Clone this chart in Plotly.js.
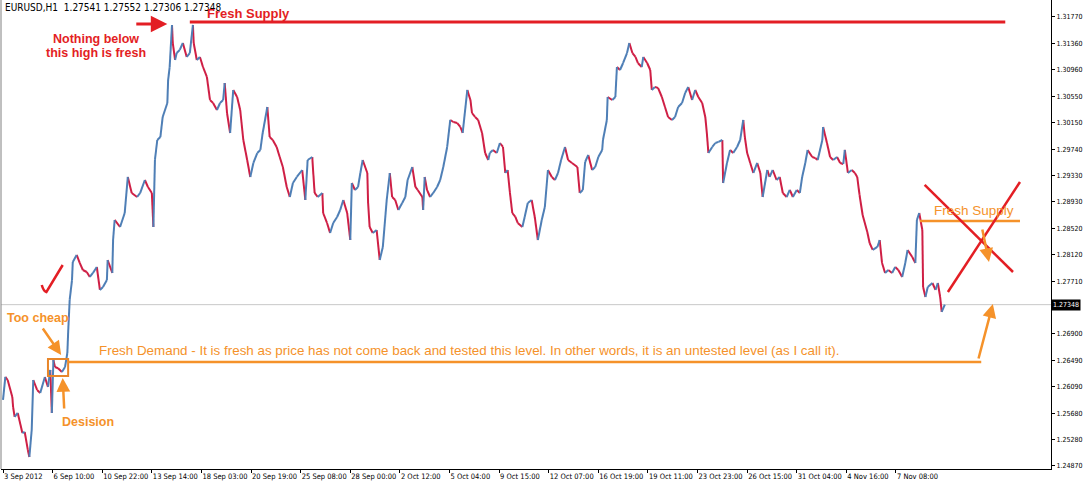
<!DOCTYPE html>
<html>
<head>
<meta charset="utf-8">
<script src="https://cdn.plot.ly/plotly-3.0.1.min.js"></script>
<style>html,body{margin:0;padding:0;background:#fff;}#chart{width:1083px;height:481px;}</style>
</head>
<body>
<div id="chart"></div>
<script>
// ---- data (bar index = hourly bar number from 3 Sep 2012) ----
const symbolName = "EURUSD,H1";
const lastBarOHLC = [1.27541, 1.27552, 1.27306, 1.27348];

const barIndex = [0,3,6,12,13,15,19,25,28,32,34,37,39,44,48,54,58,61,63,65,67,71,76,80,83,84,86,89,90,95,
99,103,108,112,116,121,125,129,134,135,141,142,144,151,157,161,166,173,177,183,187,192,194,196,199,203,206,212,213,215,
218,219,222,224,228,232,237,241,245,246,250,254,258,263,267,271,276,280,284,286,289,293,297,302,306,310,315,319,323,328,
332,335,341,342,344,348,353,357,361,366,370,374,379,386,390,393,399,400,402,406,412,413,418,422,426,431,435,439,444,448,
450,454,458,461,464,470,471,473,477,482,486,490,495,499,502,506,510,515,519,522,528,532,535,541,542,544,547,551,555,560,
564,568,573,577,581,586,590,593,599,603,605,609,613,618,622,626,628,632,637,641,645,648,651,654,657,661,664,670,673,677,
682,686,690,695,699,703,708,712,716,720,725,729,734,741,744,748,751,755,760,764,768,773,774,779,780,786,790,792,796,800,
805,808,812,816,819,824,826,831,835,837,841,845,850,854,858,863,867,871,876,880,884,889,893,897,902,906,908,910,915,919,
923,928,929,934,938,942,947,951,955,957,960,964,968,973,977,980,986,989,993,998,1002,1006,1011,1015,1019,1024,1028,1031,1035,1038,
1044,1048,1051,1057,1058,1063,1067,1071,1076,1080,1084,1086,1090,1095,1099,1102,1105,1109,1115,1118,1122,1128,1131,1134,1138,1142,
1147,1151,1155,1160,1164,1167,1173,1177,1179,1182,1186,1187,1190,1193,1199,1203,1206,1209,1211,1215];

const closePrice = [1.25883,1.26237,1.26190,1.25929,1.25775,1.25622,1.25683,1.25376,1.25391,1.25115,1.25007,1.25422,1.26190,1.26037,1.25991,1.26237,1.26083,1.26344,1.25683,1.26498,1.26390,1.26370,1.26313,1.26390,1.26605,1.26913,1.27420,1.27727,1.28004,1.28112,
1.27989,1.27881,1.27850,1.27774,1.27835,1.27927,1.27574,1.27620,1.27727,1.28035,1.27835,1.28342,1.28650,1.28542,1.28757,1.29311,1.29065,1.29003,1.29065,1.29264,1.29157,1.29065,1.28542,1.29572,1.29879,1.29925,1.30233,1.30448,1.30801,1.31001,
1.31647,1.31370,1.31109,1.31216,1.31263,1.31370,1.31155,1.31216,1.31647,1.31370,1.31109,1.31155,1.31001,1.30848,1.30494,1.30448,1.30340,1.30448,1.30494,1.30755,1.30294,1.29987,1.30648,1.30540,1.30340,1.29879,1.29572,1.29311,1.29526,1.29679,
1.29726,1.29987,1.30386,1.30233,1.29925,1.29879,1.29772,1.29618,1.29464,1.29157,1.29003,1.29218,1.29311,1.29418,1.28957,1.29572,1.29618,1.29418,1.29065,1.29003,1.29065,1.28757,1.28604,1.28450,1.28604,1.28696,1.28803,1.28957,1.28757,1.28342,
1.29218,1.29111,1.29157,1.29372,1.29572,1.29372,1.28911,1.28542,1.28450,1.28496,1.28035,1.28235,1.28957,1.29372,1.29003,1.28957,1.28803,1.28911,1.29003,1.29264,1.29464,1.29157,1.29111,1.29003,1.28803,1.29311,1.29111,1.29003,1.29065,1.29157,
1.29264,1.29464,1.29772,1.30187,1.30156,1.30140,1.30079,1.29987,1.30648,1.30494,1.30294,1.30233,1.30187,1.29987,1.29679,1.29572,1.29679,1.29726,1.29679,1.29833,1.29772,1.29372,1.29418,1.29065,1.28757,1.28696,1.28604,1.28542,1.28696,1.28911,
1.28957,1.28696,1.28342,1.28650,1.28849,1.29418,1.29311,1.29264,1.29372,1.29572,1.29772,1.29572,1.29526,1.29464,1.29065,1.29111,1.29541,1.29649,1.29418,1.29464,1.29618,1.29726,1.29879,1.30187,1.30540,1.30494,1.30540,1.31001,1.30955,1.31063,
1.31216,1.31370,1.31216,1.31155,1.31063,1.31001,1.31155,1.31063,1.30955,1.30648,1.30694,1.30680,1.30540,1.30386,1.30233,1.30187,1.30233,1.30386,1.30448,1.30602,1.30694,1.30494,1.30648,1.30540,1.30448,1.30233,1.29987,1.29679,1.29772,1.29833,
1.29850,1.29879,1.29218,1.29526,1.29726,1.29679,1.29772,1.29879,1.30187,1.29925,1.29679,1.29526,1.29372,1.29526,1.29372,1.29003,1.29418,1.29311,1.29418,1.29264,1.29311,1.29065,1.29003,1.29111,1.29003,1.29111,1.29065,1.29311,1.29526,1.29726,
1.29618,1.29600,1.29572,1.29879,1.30079,1.29833,1.29618,1.29572,1.29618,1.29526,1.29510,1.29726,1.29372,1.29418,1.29372,1.29311,1.29034,1.28726,1.28465,1.28296,1.28189,1.28235,1.28342,1.27989,1.27835,1.27881,
1.27835,1.27927,1.27881,1.27774,1.27989,1.28189,1.28081,1.27989,1.28650,1.28757,1.28496,1.27620,1.27466,1.27620,1.27681,1.27574,1.27681,1.27466,1.27236,1.27348];

const timeTickBars = [0,64,128,192,256,320,384,448,512,576,640,704,768,832,896,960,1024,1088,1152];
const timeTickLabels = ['3 Sep 2012','6 Sep 10:00','10 Sep 22:00','13 Sep 14:00','18 Sep 03:00','20 Sep 19:00','25 Sep 08:00','28 Sep 00:00','2 Oct 12:00','5 Oct 04:00','9 Oct 15:00','12 Oct 07:00','16 Oct 19:00','19 Oct 11:00','23 Oct 23:00','26 Oct 15:00','31 Oct 04:00','4 Nov 16:00','7 Nov 08:00'];
const priceTicks = [1.31770,1.31360,1.30960,1.30550,1.30150,1.29740,1.29330,1.28930,1.28520,1.28120,1.27710,1.26900,1.26490,1.26090,1.25680,1.25280,1.24870];

// ---- build up/down segments ----
const upX = [], upY = [], dnX = [], dnY = [];
for (let i = 1; i < closePrice.length; i++) {
  const up = closePrice[i] >= closePrice[i-1];
  (up ? upX : dnX).push(barIndex[i-1], barIndex[i], null);
  (up ? upY : dnY).push(closePrice[i-1], closePrice[i], null);
}
const lastClose = lastBarOHLC[3];

const RED = '#e31e24', ORANGE = '#f5922a';
const narrow = 'Liberation Sans Narrow, Arial Narrow, DejaVu Sans Condensed, sans-serif';
const sans = 'Liberation Sans, Arial, sans-serif';

const traces = [
  {type:'scatter', mode:'lines', x:dnX, y:dnY, line:{color:'#cf1f45', width:2}, hoverinfo:'skip', connectgaps:false},
  {type:'scatter', mode:'lines', x:upX, y:upY, line:{color:'#4f7fb6', width:2}, hoverinfo:'skip', connectgaps:false}
];

function arrow(x, y, ax, ay, color, w) {
  return {x:x, y:y, ax:ax, ay:ay, xref:'x', yref:'y', axref:'x', ayref:'y', text:'', showarrow:true,
          arrowhead:2, arrowsize:1.1, arrowwidth:w, arrowcolor:color};
}
function label(x, y, text, color, size, bold, anchor) {
  return {x:x, y:y, xref:'x', yref:'y', text: bold ? '<b>'+text+'</b>' : text, showarrow:false,
          xanchor:anchor || 'left', yanchor:'middle', font:{family:sans, size:size, color:color}};
}

const annotations = [
  {x:0.002, y:1, xref:'paper', yref:'paper', xanchor:'left', yanchor:'top', showarrow:false,
   text: symbolName + '  ' + lastBarOHLC.map(v => v.toFixed(5)).join(' '), font:{family:narrow, size:10, color:'#000'}},
  {x:1, y:lastClose, xref:'paper', yref:'y', xanchor:'left', yanchor:'middle', showarrow:false, text:lastClose.toFixed(5),
   bgcolor:'#000', font:{family:narrow, size:7, color:'#fff'}, borderpad:1, xshift:0},
  label(261, 1.31816, 'Fresh Supply', RED, 13, true),
  label(120, 1.31432, 'Nothing below', RED, 12.5, true, 'center'),
  label(120, 1.31216, 'this high is fresh', RED, 12.5, true, 'center'),
  arrow(212, 1.31662, 170, 1.31662, RED, 3),
  label(3, 1.27143, 'Too cheap', ORANGE, 12.5, true),
  arrow(75, 1.26575, 50, 1.27005, ORANGE, 2.5),
  label(121, 1.26651, 'Fresh Demand - It is fresh as price has not come back and tested this level. In other words, it is an untested level (as I call it).', ORANGE, 13.4, false),
  label(74, 1.25545, 'Desision', ORANGE, 12.5, true),
  arrow(77, 1.26221, 79, 1.25729, ORANGE, 2.5),
  label(1198, 1.28803, 'Fresh Supply', ORANGE, 13.5, false),
  arrow(1272, 1.28004, 1263, 1.28527, ORANGE, 2.5),
  arrow(1277, 1.27360, 1258, 1.26498, ORANGE, 2.5)
];

const shapes = [
  {type:'line', xref:'paper', yref:'paper', x0:0, x1:0, y0:0, y1:1, line:{color:'#808080', width:1}},
  {type:'line', xref:'paper', yref:'y', x0:0, x1:1, y0:lastClose, y1:lastClose, line:{color:'#c8c8c8', width:1}, layer:'below'},
  {type:'line', xref:'x', yref:'y', x0:241, x1:1293, y0:1.31693, y1:1.31693, line:{color:RED, width:3}},
  {type:'path', xref:'x', yref:'y', path:'M 50 1.27651 Q 52 1.27560 56 1.27543 L 77 1.27958', line:{color:RED, width:2.5}},
  {type:'rect', xref:'x', yref:'y', x0:58, x1:84, y0:1.26252, y1:1.26513, line:{color:'#e8862a', width:2}},
  {type:'line', xref:'x', yref:'y', x0:84, x1:1262, y0:1.26467, y1:1.26467, line:{color:ORANGE, width:2.5}},
  {type:'line', xref:'x', yref:'y', x0:1183, x1:1312, y0:1.28634, y1:1.28634, line:{color:ORANGE, width:2.5}},
  {type:'line', xref:'x', yref:'y', x0:1189, x1:1303, y0:1.29188, y1:1.27850, line:{color:RED, width:2.5}},
  {type:'line', xref:'x', yref:'y', x0:1219, x1:1312, y0:1.27543, y1:1.29234, line:{color:RED, width:2.5}}
];

const layout = {
  width:1083, height:481,
  margin:{l:1, r:32, t:0, b:12, pad:0},
  paper_bgcolor:'#fff', plot_bgcolor:'#fff',
  showlegend:false,
  xaxis:{range:[-2.6, 1352], showgrid:false, zeroline:false, showline:true, linecolor:'#000', linewidth:1,
         tickmode:'array', tickvals:timeTickBars, ticktext:timeTickLabels, ticks:'outside', ticklen:3, tickcolor:'#000',
         tickangle:0, ticklabelposition:'outside right', ticklabelstandoff:0,
         tickfont:{family:narrow, size:7.5, color:'#000'}, fixedrange:true},
  yaxis:{side:'right', range:[1.24822, 1.32031], showgrid:false, zeroline:false, showline:true, linecolor:'#000', linewidth:1,
         tickmode:'array', tickvals:priceTicks, ticktext:priceTicks.map(v => v.toFixed(5)), ticks:'outside', ticklen:3, tickcolor:'#000',
         ticklabelstandoff:0, tickfont:{family:narrow, size:7, color:'#000'}, fixedrange:true},
  annotations: annotations,
  shapes: shapes
};

Plotly.newPlot('chart', traces, layout, {staticPlot:true, displayModeBar:false});
</script>
</body>
</html>
